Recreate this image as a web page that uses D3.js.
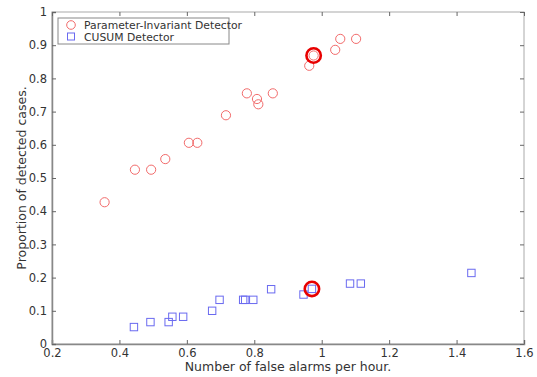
<!DOCTYPE html>
<html>
<head>
<meta charset="utf-8">
<script src="https://cdn.jsdelivr.net/npm/d3@7"></script>
<style>
  body { margin: 0; background: #fff; }
  text { font-family: "DejaVu Sans", sans-serif; fill: #333; }
</style>
</head>
<body>
<svg width="537" height="377"></svg>
<script>
// Parameter-Invariant Detector
const piX = [0.356, 0.446, 0.494, 0.536, 0.606, 0.631, 0.716, 0.778, 0.808, 0.812, 0.855, 0.963, 0.976, 1.040, 1.055, 1.102];
const piY = [0.427, 0.525, 0.525, 0.557, 0.606, 0.606, 0.689, 0.755, 0.738, 0.722, 0.755, 0.838, 0.869, 0.886, 0.919, 0.919];
// CUSUM Detector
const cuX = [0.443, 0.492, 0.546, 0.557, 0.589, 0.675, 0.697, 0.767, 0.773, 0.797, 0.850, 0.946, 0.971, 1.084, 1.116, 1.444];
const cuY = [0.051, 0.066, 0.066, 0.082, 0.082, 0.100, 0.133, 0.133, 0.133, 0.133, 0.165, 0.149, 0.166, 0.182, 0.182, 0.214];
// highlighted points
const hlX = [0.976, 0.971];
const hlY = [0.869, 0.166];

const xTicks = [0.2, 0.4, 0.6, 0.8, 1, 1.2, 1.4, 1.6];
const yTicks = [0, 0.1, 0.2, 0.3, 0.4, 0.5, 0.6, 0.7, 0.8, 0.9, 1];
const legendLabels = ['Parameter-Invariant Detector', 'CUSUM Detector'];

const svg = d3.select('svg');
const mLeft = 52, mRight = 524, mTop = 12, mBottom = 344;

const x = d3.scaleLinear().domain([0.2, 1.6]).range([mLeft, mRight]);
const y = d3.scaleLinear().domain([0, 1]).range([mBottom, mTop]);

// frame
svg.append('rect')
   .attr('x', mLeft).attr('y', mTop)
   .attr('width', mRight - mLeft).attr('height', mBottom - mTop)
   .attr('fill', 'none').attr('stroke', '#aaa').attr('stroke-width', 1);

const fmt = d => String(d);

svg.append('g')
   .attr('transform', `translate(0,${mBottom})`)
   .call(d3.axisBottom(x).tickValues(xTicks).tickFormat(fmt).tickSize(-4).tickPadding(5));
svg.append('g')
   .attr('transform', `translate(${mLeft},0)`)
   .call(d3.axisLeft(y).tickValues(yTicks).tickFormat(fmt).tickSize(-4).tickPadding(5));
// mirrored ticks on top and right
svg.append('g')
   .attr('transform', `translate(0,${mTop})`)
   .call(d3.axisTop(x).tickValues(xTicks).tickFormat('').tickSize(-4))
   .select('.domain').remove();
svg.append('g')
   .attr('transform', `translate(${mRight},0)`)
   .call(d3.axisRight(y).tickValues(yTicks).tickFormat('').tickSize(-4))
   .select('.domain').remove();

svg.selectAll('.domain').attr('stroke', '#888').attr('stroke-width', 1.5);
svg.selectAll('.tick line').attr('stroke', '#666');
svg.selectAll('.tick text').attr('font-size', 11.5).style('font-family', '"DejaVu Sans", sans-serif').attr('fill', '#333');

// axis labels
svg.append('text')
   .attr('x', (mLeft + mRight) / 2).attr('y', 371)
   .attr('text-anchor', 'middle').attr('font-size', 12.5)
   .text('Number of false alarms per hour.');
svg.append('text')
   .attr('transform', `translate(26,${(mTop + mBottom) / 2}) rotate(-90)`)
   .attr('text-anchor', 'middle').attr('font-size', 12.5)
   .text('Proportion of detected cases.');

const red = '#f26b6b';
const blue = '#6a6af0';

// circles
svg.append('g').selectAll('circle')
   .data(piX.map((v, i) => ({x: v, y: piY[i]})))
   .join('circle')
   .attr('cx', d => x(d.x)).attr('cy', d => y(d.y)).attr('r', 4.6)
   .attr('fill', 'none').attr('stroke', red).attr('stroke-width', 1);

// squares
const s = 7.4;
svg.append('g').selectAll('rect')
   .data(cuX.map((v, i) => ({x: v, y: cuY[i]})))
   .join('rect')
   .attr('x', d => x(d.x) - s / 2).attr('y', d => y(d.y) - s / 2)
   .attr('width', s).attr('height', s)
   .attr('fill', 'none').attr('stroke', blue).attr('stroke-width', 1);

// highlight rings
svg.append('g').selectAll('circle')
   .data(hlX.map((v, i) => ({x: v, y: hlY[i]})))
   .join('circle')
   .attr('cx', d => x(d.x)).attr('cy', d => y(d.y)).attr('r', 7.2)
   .attr('fill', 'none').attr('stroke', '#e80000').attr('stroke-width', 2.6);

// legend
const lg = svg.append('g');
lg.append('rect')
  .attr('x', 58).attr('y', 18).attr('width', 171).attr('height', 26)
  .attr('fill', '#fff').attr('stroke', '#888').attr('stroke-width', 1);
lg.append('circle').attr('cx', 71).attr('cy', 25).attr('r', 4.3)
  .attr('fill', 'none').attr('stroke', red);
lg.append('rect').attr('x', 71 - 3.5).attr('y', 36.5 - 3.5).attr('width', 7).attr('height', 7)
  .attr('fill', 'none').attr('stroke', blue);
lg.selectAll('text')
  .data(legendLabels)
  .join('text')
  .attr('x', 84).attr('y', (d, i) => 29 + i * 11.5)
  .attr('font-size', 10.8)
  .text(d => d);
</script>
</body>
</html>
